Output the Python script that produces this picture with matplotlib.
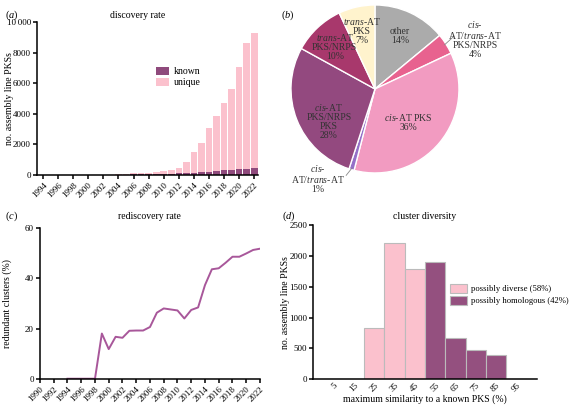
import numpy as np
import matplotlib
matplotlib.use('Agg')
from matplotlib import pyplot as plt

plt.rcParams['font.family'] = ['Liberation Serif', 'DejaVu Serif']
plt.rcParams['mathtext.fontset'] = 'custom'
plt.rcParams['mathtext.rm'] = 'Liberation Serif'
plt.rcParams['mathtext.it'] = 'Liberation Serif:italic'
plt.rcParams['font.size'] = 7
plt.rcParams['axes.linewidth'] = 1.1
plt.rcParams['xtick.major.width'] = 1.1
plt.rcParams['ytick.major.width'] = 1.1
plt.rcParams['xtick.major.size'] = 3
plt.rcParams['ytick.major.size'] = 3

# (a) discovery rate
years_a = list(range(1994, 2023))
known = [0, 0, 0, 0, 0, 0, 0, 0, 5, 10, 20, 30, 35, 45, 55, 65, 80, 90, 110, 130,
         150, 180, 220, 250, 300, 340, 370, 420, 430]
unique = [0, 0, 0, 0, 0, 5, 5, 10, 10, 20, 25, 40, 70, 85, 105, 130, 160, 260, 360, 740,
          1360, 1910, 2880, 3590, 4420, 5260, 6680, 8200, 8820]

# (b) pie
pie_labels = ['other\n14%', '$\\it{cis}$-\nAT/$\\it{trans}$-AT\nPKS/NRPS\n4%',
              '$\\it{cis}$-AT PKS\n36%', '$\\it{cis}$-\nAT/$\\it{trans}$-AT\n1%',
              '$\\it{cis}$-AT\nPKS/NRPS\nPKS\n28%', '$\\it{trans}$-AT\nPKS/NRPS\n10%',
              '$\\it{trans}$-AT\nPKS\n7%']
pie_values = [14, 4, 36, 1, 28, 10, 7]
pie_colors = ['#ababab', '#e8628f', '#f29bc1', '#9470c8', '#93497f', '#a8386c', '#fff3cd']

# (c) rediscovery rate
years_c = list(range(1994, 2023))
redundant = [0, 0, 0, 0, 0, 18.0, 11.8, 16.7, 16.3, 19.1, 19.2, 19.2, 20.6, 26.3, 28.0,
             27.6, 27.2, 24.0, 27.4, 28.4, 37.3, 43.6, 44.0, 46.2, 48.6, 48.6, 49.9, 51.3, 51.8]

# (d) cluster diversity
sim_bins = [5, 15, 25, 35, 45, 55, 65, 75, 85, 95]
sim_counts = [0, 0, 830, 2215, 1790, 1900, 662, 466, 390, 0]
diverse_bins = [25, 35, 45]

known_c = '#8f4a7c'
pink_c = '#fbc1cd'
purple_c = '#94507f'

fig = plt.figure(figsize=(5.72, 4.07), dpi=100)


def style(ax):
    ax.spines['top'].set_visible(False)
    ax.spines['right'].set_visible(False)
    ax.tick_params(labelsize=6.5, pad=1.5)


# ---- (a)
ax1 = fig.add_axes([0.0647, 0.570, 0.3864, 0.376])
ax1.bar(years_a, known, width=0.88, color=known_c, label='known', edgecolor='none')
ax1.bar(years_a, unique, width=0.88, bottom=known, color=pink_c, label='unique', edgecolor='none')
ax1.set_xlim(1993.2, 2022.5)
ax1.set_ylim(0, 10000)
ax1.set_yticks([0, 2000, 4000, 6000, 8000, 10000])
ax1.set_yticklabels(['0', '2000', '4000', '6000', '8000', '10\u2009000'])
ax1.set_xticks(range(1994, 2023, 2))
ax1.set_xticklabels([str(y) for y in range(1994, 2023, 2)], rotation=45, ha='right',
                    rotation_mode='anchor')
ax1.set_ylabel('no. assembly line PKSs', fontsize=7)
ax1.yaxis.set_label_coords(-0.105, 0.5)
style(ax1)
ax1.legend(loc='center left', bbox_to_anchor=(0.50, 0.64), frameon=False, fontsize=7,
           handlelength=1.3, handleheight=0.9, handletextpad=0.5, labelspacing=0.2)
fig.text(0.240, 0.962, 'discovery rate', ha='center', va='center', fontsize=7)
fig.text(0.009, 0.962, '($\\it{a}$)', ha='left', va='center', fontsize=7.5)

# ---- (b)
ax2 = fig.add_axes([0.5087, 0.575, 0.2937, 0.4128])
wedges, _ = ax2.pie(pie_values, colors=pie_colors, startangle=90, counterclock=False,
                    wedgeprops=dict(edgecolor='white', linewidth=1.0))
ax2.set_xlim(-1, 1)
ax2.set_ylim(-1, 1)
# label placement: (radius, angle override or None)
place = [(0.70, None), (None, None), (0.56, -45), (None, None), (0.67, 215), (0.70, None), (0.71, None)]
for w, lab, (r, ang) in zip(wedges, pie_labels, place):
    mid = (w.theta1 + w.theta2) / 2
    if r is None:
        continue
    a = np.deg2rad(ang if ang is not None else mid)
    ax2.text(r * np.cos(a), r * np.sin(a), lab, ha='center', va='center', fontsize=7,
             color='#333333', linespacing=1.0, clip_on=False)
# outside labels with leader lines
for idx, (tx, ty), (r0, r1) in [(1, (1.19, 0.60), (0.98, 1.08)), (3, (-0.68, -1.06), (0.98, 1.05))]:
    w = wedges[idx]
    a = np.deg2rad((w.theta1 + w.theta2) / 2)
    ax2.plot([r0 * np.cos(a), r1 * np.cos(a) + (0.03 if idx == 1 else -0.05)],
             [r0 * np.sin(a), r1 * np.sin(a) + (0.05 if idx == 1 else -0.02)],
             color='#888888', lw=0.6, clip_on=False)
    ax2.text(tx, ty, pie_labels[idx], ha='center', va='center', fontsize=7,
             color='#333333', linespacing=1.0, clip_on=False)
fig.text(0.492, 0.962, '($\\it{b}$)', ha='left', va='center', fontsize=7.5)

# ---- (c)
ax3 = fig.add_axes([0.0699, 0.0695, 0.3846, 0.370])
ax3.plot(years_c, redundant, color='#a8579a', lw=1.4)
ax3.set_xlim(1990, 2022)
ax3.set_ylim(0, 60)
ax3.set_yticks([0, 20, 40, 60])
ax3.set_xticks(range(1990, 2023, 2))
ax3.set_xticklabels([str(y) for y in range(1990, 2023, 2)], rotation=45, ha='right',
                    rotation_mode='anchor')
ax3.set_ylabel('redundant clusters (%)', fontsize=7)
ax3.yaxis.set_label_coords(-0.128, 0.5)
style(ax3)
fig.text(0.262, 0.469, 'rediscovery rate', ha='center', va='center', fontsize=7)
fig.text(0.009, 0.469, '($\\it{c}$)', ha='left', va='center', fontsize=7.5)

# ---- (d)
ax4 = fig.add_axes([0.5477, 0.0688, 0.3906, 0.3776])
cols = [pink_c if b in diverse_bins else purple_c for b in sim_bins]
bars = ax4.bar(sim_bins, sim_counts, width=10, color=cols, edgecolor='#bbbbbb', linewidth=0.8)
ax4.set_xlim(-5, 105)
ax4.set_ylim(0, 2500)
ax4.set_yticks([0, 500, 1000, 1500, 2000, 2500])
ax4.set_xticks(sim_bins)
ax4.set_xticklabels([str(b) for b in sim_bins], rotation=45, ha='right', rotation_mode='anchor')
ax4.set_xlabel('maximum similarity to a known PKS (%)', fontsize=7, labelpad=1)
ax4.set_ylabel('no. assembly line PKSs', fontsize=7)
ax4.yaxis.set_label_coords(-0.105, 0.5)
style(ax4)
ax4.tick_params(axis='x', length=0)
ax4.legend([bars[2], bars[5]], ['possibly diverse (58%)', 'possibly homologous (42%)'],
           loc='center left', bbox_to_anchor=(0.578, 0.55), frameon=False, fontsize=6.2,
           handlelength=2.0, handleheight=1.3, handletextpad=0.4, labelspacing=0.25)
fig.text(0.743, 0.469, 'cluster diversity', ha='center', va='center', fontsize=7)
fig.text(0.493, 0.469, '($\\it{d}$)', ha='left', va='center', fontsize=7.5)

plt.savefig('out.png', dpi=100)
